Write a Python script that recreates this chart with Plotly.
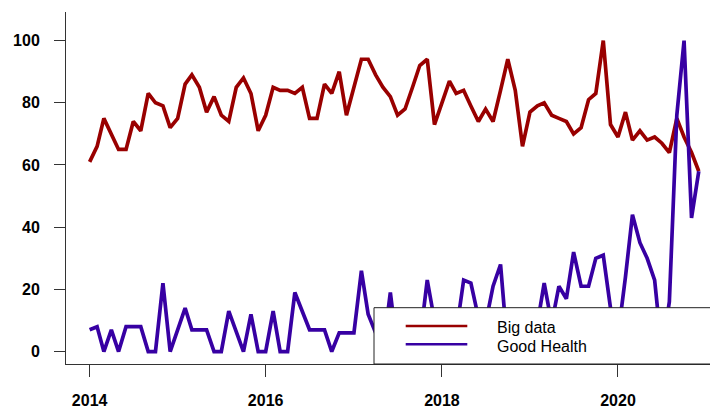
import pandas as pd
import plotly.graph_objects as go

# Monthly series, Jan 2014 .. Dec 2020
months = pd.date_range("2014-01-01", periods=84, freq="MS")

big_data = [
    61, 66, 75, 70, 65, 65, 74, 71, 83, 80, 79, 72,
    75, 86, 89, 85, 77, 82, 76, 74, 85, 88, 83, 71,
    76, 85, 84, 84, 83, 85, 75, 75, 86, 83, 90, 76,
    85, 94, 94, 89, 85, 82, 76, 78, 85, 92, 94, 73,
    80, 87, 83, 84, 79, 74, 78, 74, 84, 94, 84, 66,
    77, 79, 80, 76, 75, 74, 70, 72, 81, 83, 100, 73,
    69, 77, 68, 71, 68, 69, 67, 64, 75, 69, 64, 58,
]

good_health = [
    7, 8, 0, 7, 0, 8, 8, 8, 0, 0, 22, 0,
    7, 14, 7, 7, 7, 0, 0, 13, 6, 0, 12, 0,
    0, 13, 0, 0, 19, 13, 7, 7, 7, 0, 6, 6,
    6, 26, 12, 6, 0, 19, 0, 6, 0, 3, 23, 10,
    0, 6, 6, 23, 22, 11, 9, 21, 28, 0, 6, 0,
    6, 9, 22, 9, 21, 17, 32, 21, 21, 30, 31, 14,
    5, 24, 44, 35, 30, 23, 0, 16, 76, 100, 43, 58,
]

series_names = ["Big data", "Good Health"]
series_colors = ["#990000", "#3700a3"]

y_ticks = [0, 20, 40, 60, 80, 100]
x_ticks = ["2014-01-01", "2016-01-01", "2018-01-01", "2020-01-01"]
x_tick_labels = ["2014", "2016", "2018", "2020"]

fig = go.Figure()
for name, vals, col in zip(series_names, [big_data, good_health], series_colors):
    fig.add_trace(go.Scatter(x=months, y=vals, mode="lines", name=name,
                             line=dict(color=col, width=3.7), showlegend=False))

font_fam = "Liberation Sans, Arial, sans-serif"
W, H = 710, 409
ml, mr, mt, mb = 66, 0, 12, 45
pw = W - ml - mr
ph = H - mt - mb

def px(x):
    return (x - ml) / pw

def py(y):
    return (H - mb - y) / ph

shapes = [
    dict(type="rect", xref="paper", yref="paper", x0=px(374), x1=1.05,
         y0=0, y1=py(307.7), line=dict(color="#222", width=1),
         fillcolor="white", layer="above"),
]
for yy, col in zip([326, 344.3], series_colors):
    shapes.append(dict(type="line", xref="paper", yref="paper",
                       x0=px(405.7), x1=px(467.3), y0=py(yy), y1=py(yy),
                       line=dict(color=col, width=2.5), layer="above"))

annotations = []
for yy, name in zip([327.7, 346.7], series_names):
    annotations.append(dict(xref="paper", yref="paper", x=px(495), y=py(yy),
                            xanchor="left", yanchor="middle", text=name,
                            showarrow=False,
                            font=dict(family=font_fam, size=16, color="black")))

fig.update_layout(
    width=W, height=H, autosize=False,
    margin=dict(l=ml, r=mr, t=mt, b=mb, pad=0),
    paper_bgcolor="white", plot_bgcolor="white",
    shapes=shapes, annotations=annotations,
    xaxis=dict(type="date", range=["2013-09-25", "2021-01-16 14:00"],
               tickvals=x_ticks, ticktext=x_tick_labels,
               showgrid=False, zeroline=False, showline=True,
               linecolor="#333", linewidth=1, ticks="outside", ticklen=12,
               tickcolor="#333", tickwidth=1, ticklabelstandoff=10,
               tickfont=dict(family=font_fam, size=16, color="black", weight="bold")),
    yaxis=dict(range=[-4, 109.2], tickvals=y_ticks,
               showgrid=False, zeroline=False, showline=True,
               linecolor="#333", linewidth=1, ticks="outside", ticklen=11,
               tickcolor="#333", tickwidth=1, ticklabelstandoff=11,
               tickfont=dict(family=font_fam, size=16, color="black", weight="bold")),
)

fig.write_html("out.html", config={"displayModeBar": False},
               post_script="document.body.style.margin='0px';document.body.style.overflow='hidden';")
